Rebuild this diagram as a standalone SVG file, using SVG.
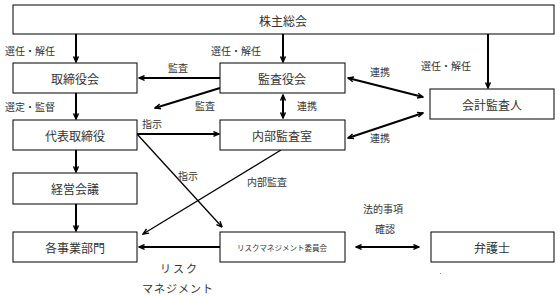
<svg xmlns="http://www.w3.org/2000/svg" width="560" height="297" viewBox="0 0 560 297">
<style>
.box{fill:#fff;stroke:#000;stroke-width:1}
.t{font-family:"Noto Sans CJK JP","Noto Sans CJK SC",sans-serif;font-size:12px;fill:#333;text-anchor:middle;dominant-baseline:central}
.l{font-family:"Noto Sans CJK JP","Noto Sans CJK SC",sans-serif;font-size:10px;fill:#333;dominant-baseline:central}
.e{fill:none;stroke:#000;stroke-width:2}
.thin{fill:none;stroke:#000;stroke-width:1.3}
</style>
<defs>
<marker id="ah" viewBox="0 0 10 10" refX="9" refY="5" markerWidth="7" markerHeight="7" orient="auto-start-reverse" markerUnits="userSpaceOnUse">
<path d="M1,1.5 L9,5 L1,8.5" fill="none" stroke="#000" stroke-width="2"/>
</marker>
<marker id="ah2" viewBox="0 0 10 10" refX="9" refY="5" markerWidth="7" markerHeight="7" orient="auto-start-reverse" markerUnits="userSpaceOnUse">
<path d="M1,1.5 L9,5 L1,8.5" fill="none" stroke="#000" stroke-width="2"/>
</marker>
</defs>
<rect width="560" height="297" fill="#fff"/>
<g id="connectors">
<line class="e" x1="76" y1="34" x2="76" y2="62" marker-end="url(#ah)"/>
<line class="e" x1="283" y1="34" x2="283" y2="62" marker-end="url(#ah)"/>
<line class="e" x1="488" y1="34" x2="488" y2="88" marker-end="url(#ah)"/>
<line class="e" x1="220" y1="78" x2="139" y2="78" marker-end="url(#ah)"/>
<line class="e" x1="220" y1="88" x2="155" y2="108" marker-end="url(#ah)"/>
<line class="e" x1="76" y1="93" x2="76" y2="119" marker-end="url(#ah)"/>
<line class="e" x1="137" y1="134" x2="219" y2="134" marker-end="url(#ah)"/>
<line class="e" x1="283" y1="95" x2="283" y2="118" marker-start="url(#ah)" marker-end="url(#ah)"/>
<line class="e" x1="348" y1="78" x2="423" y2="97" marker-start="url(#ah)" marker-end="url(#ah)"/>
<line class="e" x1="348" y1="138" x2="423" y2="113" marker-start="url(#ah)" marker-end="url(#ah)"/>
<line class="thin" x1="137" y1="134" x2="222" y2="227" marker-end="url(#ah)"/>
<line class="thin" x1="281" y1="150" x2="143" y2="234" marker-end="url(#ah)"/>
<line class="e" x1="76" y1="150" x2="76" y2="172" marker-end="url(#ah)"/>
<line class="e" x1="76" y1="204" x2="76" y2="231" marker-end="url(#ah)"/>
<line class="e" x1="220" y1="247" x2="139" y2="247" marker-end="url(#ah)"/>
<line class="e" x1="356" y1="247" x2="419" y2="247" marker-start="url(#ah2)" marker-end="url(#ah2)"/>
</g>
<g id="labels">
<text class="l" x="5" y="50">選任・解任</text>
<text class="l" x="211" y="50">選任・解任</text>
<text class="l" x="421" y="65">選任・解任</text>
<text class="l" x="168" y="67">監査</text>
<text class="l" x="195" y="105">監査</text>
<text class="l" x="5" y="106">選定・監督</text>
<text class="l" x="142" y="123">指示</text>
<text class="l" x="297" y="105">連携</text>
<text class="l" x="370" y="71">連携</text>
<text class="l" x="370" y="137">連携</text>
<text class="l" x="178" y="175">指示</text>
<text class="l" x="247" y="181">内部監査</text>
<text class="l" x="363" y="208">法的事項</text>
<text class="l" x="375" y="228">確認</text>
<text class="l" x="160" y="268" style="font-size:11px;letter-spacing:2px">リスク</text>
<text class="l" x="142" y="288" style="font-size:11px;letter-spacing:1px">マネジメント</text>
</g>
<g id="n-kabunushi"><rect class="box" x="13" y="5" width="541" height="29"/><text class="t" x="283" y="20">株主総会</text></g>
<g id="n-torishimariyakukai"><rect class="box" x="13" y="63" width="124" height="30"/><text class="t" x="75" y="78">取締役会</text></g>
<g id="n-kansayakukai"><rect class="box" x="220" y="63" width="125" height="30"/><text class="t" x="282" y="78">監査役会</text></g>
<g id="n-kaikei"><rect class="box" x="430" y="89" width="124" height="30"/><text class="t" x="492" y="104">会計監査人</text></g>
<g id="n-daihyo"><rect class="box" x="13" y="120" width="124" height="30"/><text class="t" x="75" y="135">代表取締役</text></g>
<g id="n-naibu"><rect class="box" x="220" y="120" width="125" height="30"/><text class="t" x="282" y="135">内部監査室</text></g>
<g id="n-keiei"><rect class="box" x="13" y="173" width="124" height="31"/><text class="t" x="75" y="188">経営会議</text></g>
<g id="n-jigyo"><rect class="box" x="13" y="232" width="124" height="30"/><text class="t" x="75" y="247">各事業部門</text></g>
<g id="n-risk"><rect class="box" x="220" y="232" width="125" height="30"/><text class="t" x="282" y="247" style="font-size:7.5px">リスクマネジメント委員会</text></g>
<g id="n-bengoshi"><rect class="box" x="431" y="232" width="123" height="30"/><text class="t" x="492" y="247">弁護士</text></g>
<rect x="440" y="273" width="1" height="1" fill="#888"/>
</svg>
